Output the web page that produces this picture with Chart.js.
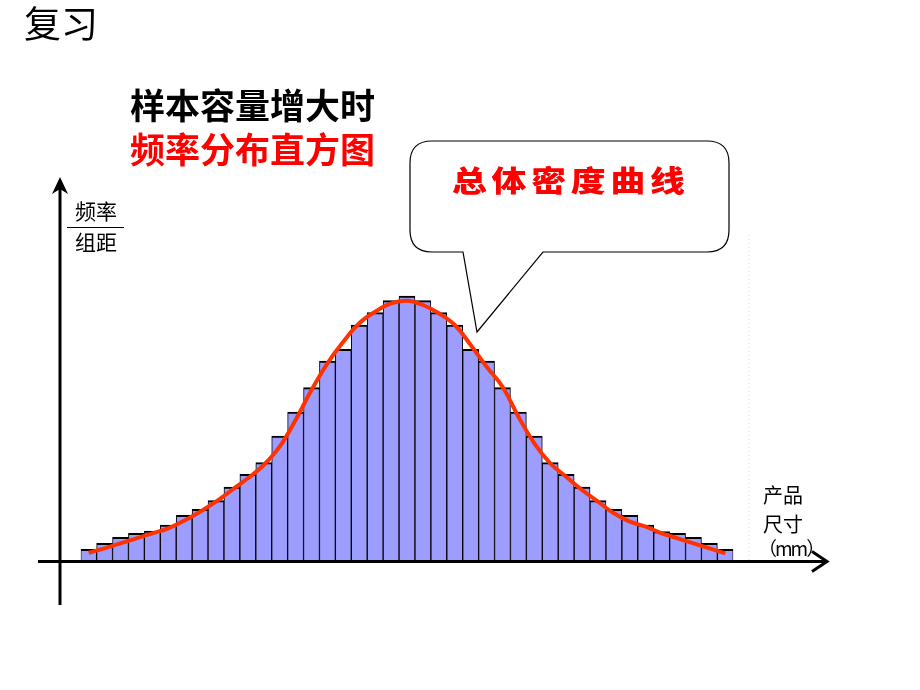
<!DOCTYPE html>
<html>
<head>
<meta charset="utf-8">
<script src="https://cdn.jsdelivr.net/npm/chart.js@4/dist/chart.umd.min.js"></script>
<style>
  html, body { margin: 0; padding: 0; background: #fff; }
  #wrap { position: relative; width: 920px; height: 690px; overflow: hidden; }
  #c { position: absolute; left: 0; top: 0; }
  .t { position: absolute; white-space: nowrap; line-height: 1; font-family: "Noto Sans CJK SC", "Noto Sans", sans-serif; }
  svg { position: absolute; left: 0; top: 0; }
</style>
</head>
<body>
<div id="wrap">
  <canvas id="c" width="920" height="690"></canvas>
  <svg width="920" height="690">
    <line x1="749" y1="235" x2="749" y2="560" stroke="#d8d8d8" stroke-width="1" stroke-dasharray="1,3"/>
    <path d="M432,141 L707,141 Q729,141 729,163 L729,230 Q729,252 707,252 L543,252 L477,332 L463,252 L432,252 Q410,252 410,230 L410,163 Q410,141 432,141 Z"
          fill="#fff" stroke="#000" stroke-width="1.2"/>
    <line x1="67" y1="227.5" x2="124" y2="227.5" stroke="#000" stroke-width="1"/>
  </svg>
  <div class="t" style="left:24px;top:4px;font-size:37px;color:#000;">复习</div>
  <div class="t" style="left:130px;top:86px;font-size:35px;font-weight:700;color:#000;">样本容量增大时</div>
  <div class="t" style="left:130px;top:130px;font-size:35px;font-weight:700;color:#ff0000;">频率分布直方图</div>
  <div class="t" style="left:452px;top:165px;font-size:29px;font-weight:900;color:#ff0000;letter-spacing:4px;transform:scaleX(1.2);transform-origin:left top;">总体密度曲线</div>
  <div class="t" style="left:75px;top:200px;font-size:21px;color:#000;">频率</div>
  <div class="t" style="left:75px;top:231px;font-size:21px;color:#000;">组距</div>
  <div class="t" style="left:763px;top:485px;font-size:20px;color:#000;">产品</div>
  <div class="t" style="left:763px;top:514px;font-size:20px;color:#000;">尺寸</div>
  <div class="t" style="left:758px;top:538px;font-size:19px;color:#000;letter-spacing:-2px;">（mm）</div>
</div>
<script>
// 41 bins of product size (labels are not shown in the reference)
const categories = Array.from({length: 41}, (_, i) => String(i + 1));
// histogram heights (frequency / group width, arbitrary units)
const barHeights = [10.7, 16.7, 22.7, 26.7, 29, 35, 44.7, 50.7, 59.3, 73, 85.7, 97.3, 124, 148, 172.3, 199, 210.7, 235, 247.3, 259.3, 264,
                    259.3, 247.3, 235, 210.7, 199, 172.3, 148, 124, 97.3, 85.7, 73, 59.3, 50.7, 44.7, 35, 28.3, 26.7, 22.7, 16.7, 10.7];
// population density curve, read at bin centres
const curveValues = [7.3, 11.7, 16.7, 21.7, 26.7, 31.7, 39.3, 48.3, 58.3, 70, 81.7, 95, 113.3, 140, 170, 196.7, 218.3, 236.7, 248.3, 256.7, 259.3,
                     255, 246.7, 235, 215, 193.3, 173.3, 143.3, 116.7, 96.7, 83.3, 70, 58.3, 46.7, 38.3, 33.3, 26.7, 21.7, 16.7, 11.7, 6.7];
const yMax = 380;

const axesPlugin = {
  id: 'axesArrows',
  afterDraw(chart) {
    const ctx = chart.ctx;
    const y0 = chart.scales.y.getPixelForValue(0) + 1.5;
    const left = chart.chartArea.left;
    const xAxisX = left - 20.7;
    ctx.save();
    ctx.strokeStyle = '#000';
    ctx.fillStyle = '#000';
    ctx.lineWidth = 3;
    // x axis
    ctx.beginPath();
    ctx.moveTo(38, y0);
    ctx.lineTo(826, y0);
    ctx.stroke();
    ctx.beginPath();
    ctx.lineWidth = 3;
    ctx.moveTo(812, y0 - 10);
    ctx.lineTo(827, y0);
    ctx.lineTo(812, y0 + 10);
    ctx.stroke();
    // y axis
    ctx.beginPath();
    ctx.lineWidth = 3;
    ctx.moveTo(xAxisX, 605);
    ctx.lineTo(xAxisX, 186);
    ctx.stroke();
    ctx.beginPath();
    ctx.moveTo(xAxisX, 177);
    ctx.lineTo(xAxisX - 8, 194);
    ctx.lineTo(xAxisX, 189);
    ctx.lineTo(xAxisX + 8, 194);
    ctx.closePath();
    ctx.fill();
    ctx.restore();
  }
};

new Chart(document.getElementById('c'), {
  data: {
    labels: categories,
    datasets: [
      {
        type: 'line',
        data: curveValues,
        borderColor: '#ff3300',
        borderWidth: 4,
        pointRadius: 0,
        tension: 0.4,
        fill: false,
        order: 0
      },
      {
        type: 'bar',
        data: barHeights,
        backgroundColor: '#9d9dff',
        borderColor: '#000',
        borderWidth: {top: 2, left: 1, right: 1, bottom: 0},
        borderSkipped: false,
        barPercentage: 1,
        categoryPercentage: 1,
        order: 1
      }
    ]
  },
  options: {
    responsive: false,
    animation: false,
    layout: { padding: { left: 80.7, right: 186.7, top: 180, bottom: 130 } },
    plugins: { legend: { display: false }, tooltip: { enabled: false } },
    scales: {
      x: { display: false, offset: true },
      y: { display: false, min: 0, max: yMax }
    }
  },
  plugins: [axesPlugin]
});
</script>
</body>
</html>
